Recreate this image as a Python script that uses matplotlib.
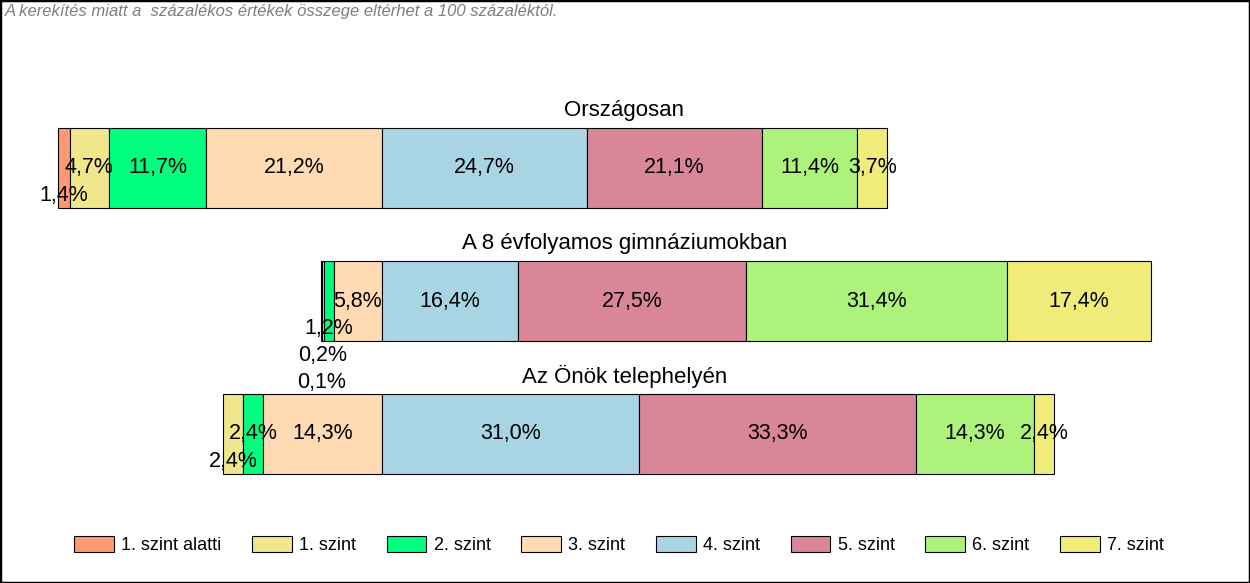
import numpy as np
import matplotlib.pyplot as plt
import matplotlib.transforms as mtransforms
from matplotlib.patches import Rectangle

plt.rcParams['font.family'] = ['Liberation Sans', 'DejaVu Sans']

# Data
groups = ['Országosan', 'A 8 évfolyamos gimnáziumokban', 'Az Önök telephelyén']
levels = ['1. szint alatti', '1. szint', '2. szint', '3. szint',
          '4. szint', '5. szint', '6. szint', '7. szint']
values = np.array([
    [1.4, 4.7, 11.7, 21.2, 24.7, 21.1, 11.4, 3.7],
    [0.1, 0.2, 1.2, 5.8, 16.4, 27.5, 31.4, 17.4],
    [0.0, 2.4, 2.4, 14.3, 31.0, 33.3, 14.3, 2.4],
])
colors = ['#FF9973', '#F0E68C', '#00FF7F', '#FFDAB3',
          '#A8D4E4', '#D98699', '#ADF27A', '#F0EC7A']
note = 'A kerekítés miatt a  százalékos értékek összege eltérhet a 100 százaléktól.'

W, H = 1250, 583
fig = plt.figure(figsize=(W / 100, H / 100), dpi=100)
ax = fig.add_axes([0, 0, 1, 1])
ax.axis('off')

# bars are aligned at the boundary between 3. and 4. szint
px_per_pct = 8.3
x0_px = 382
ax.set_xlim(-x0_px / px_per_pct, (W - x0_px) / px_per_pct)
row_px = 133
first_px = 168
ax.set_ylim((H - first_px) / row_px, -first_px / row_px)

label_step = 0.205
min_gap = 6.0

for i, row in enumerate(values):
    lefts = -row[:4].sum() + np.concatenate([[0], np.cumsum(row)[:-1]])
    for j, v in enumerate(row):
        if v <= 0:
            continue
        ax.barh(i, v, left=lefts[j], height=0.6, color=colors[j],
                edgecolor='black', linewidth=0.8)
    # labels, placed right to left, pushed down if they would collide
    last = {}
    for j in range(len(row) - 1, -1, -1):
        v = row[j]
        if v <= 0:
            continue
        xc = lefts[j] + v / 2
        lvl = 0
        while lvl in last and abs(last[lvl] - xc) < min_gap:
            lvl += 1
        last[lvl] = xc
        ax.text(xc, i + lvl * label_step, f'{v:.1f}'.replace('.', ',') + '%',
                ha='center', va='center', fontsize=15.5, color='black')

trans = mtransforms.blended_transform_factory(fig.transFigure, ax.transData)
for i, g in enumerate(groups):
    ax.text(0.4995, i - 0.43, g, transform=trans, ha='center', va='center',
            fontsize=16, color='black')

fig.text(5 / W, 1 - 4 / H, note, ha='left', va='top', fontsize=12,
         style='italic', color='#7f7f7f')

handles = [Rectangle((0, 0), 1, 1, facecolor=c, edgecolor='black', linewidth=0.8)
           for c in colors]
fig.legend(handles, levels, loc='center', bbox_to_anchor=(619 / W, 1 - 545 / H),
           ncol=8, frameon=False, fontsize=13, handlelength=2.2,
           handleheight=1.0, handletextpad=0.4, columnspacing=1.7)

fig.patches.append(Rectangle((0, 0), 1, 1, transform=fig.transFigure,
                             fill=False, edgecolor='black', linewidth=2.5))

fig.savefig('out.png', dpi=100)
